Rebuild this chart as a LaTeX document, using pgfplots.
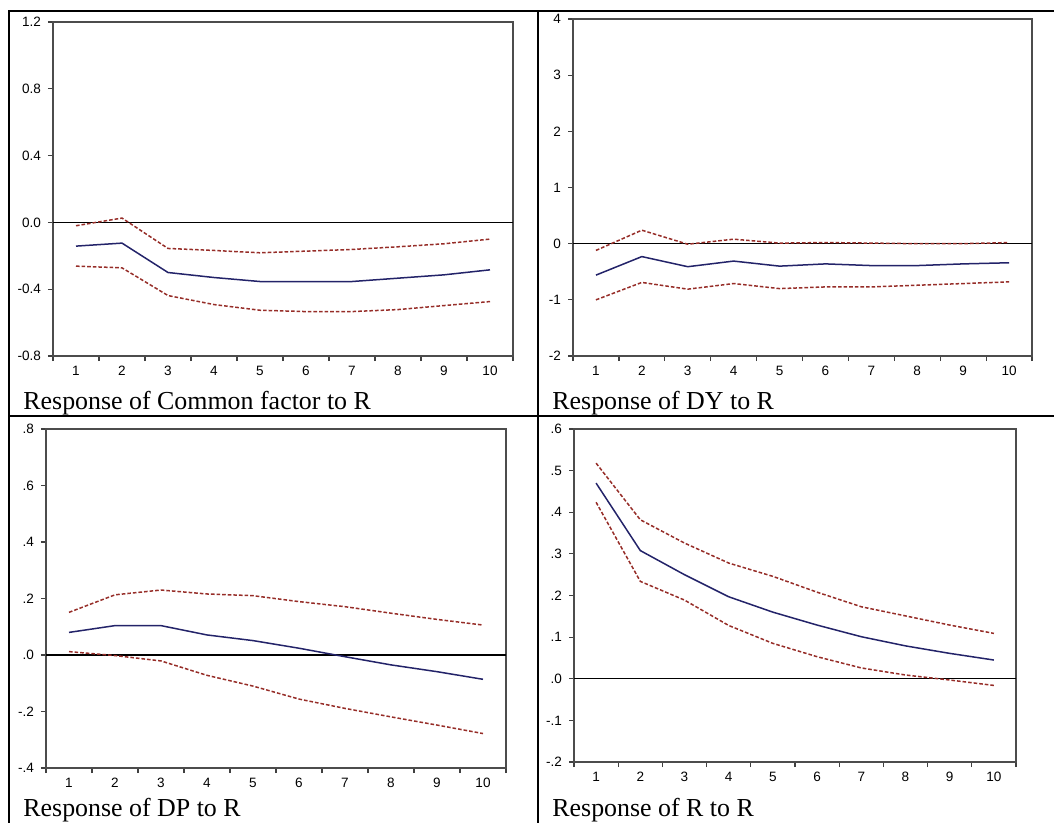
\documentclass[border=0pt]{standalone}
\usepackage{fontspec}
\setmainfont{Liberation Serif}
\setsansfont{Liberation Sans}
\usepackage{pgfplots}
\pgfplotsset{compat=1.18}

\definecolor{irfblue}{RGB}{35,35,105}
\definecolor{irfred}{RGB}{150,45,40}

\pgfplotsset{
  irf/.style={
    scale only axis,
    anchor=south west,
    xmin=0.5, xmax=10.5,
    xtick={0.5,1.5,...,10.5},
    xticklabels={},
    extra x ticks={1,2,3,4,5,6,7,8,9,10},
    extra x tick labels={1,2,3,4,5,6,7,8,9,10},
    extra x tick style={major tick length=0pt,
      xticklabel style={anchor=base, yshift=-9.5bp}},
    tick align=outside,
    xtick pos=bottom, ytick pos=left,
    major tick length=2.5bp,
    tick style={black!75, line width=0.6bp},
    axis line style={black!70, line width=0.6bp},
    ticklabel style={font=\sffamily\fontsize{6.8}{7}\selectfont},
    every axis plot/.append style={line width=0.75bp},
  },
  est/.style={irfblue, solid},
  band/.style={irfred, dash pattern=on 1.8bp off 1bp},
  zero/.style={black, line width=0.6bp},
}

\begin{document}
\begin{tikzpicture}
\path[use as bounding box] (0,0) rectangle (527bp,-411.5bp);

% table rules
\draw[line width=1bp] (4bp,-5.5bp) -- (527bp,-5.5bp);
\draw[line width=1bp] (4.5bp,-5.5bp) -- (4.5bp,-411.5bp);
\draw[line width=1bp] (269bp,-5.5bp) -- (269bp,-411.5bp);
\draw[line width=1bp] (4.5bp,-208bp) -- (527bp,-208bp);

% Common factor
\begin{axis}[irf, at={(26.5bp,-178bp)}, width=230bp, height=167bp,
  ymin=-0.8, ymax=1.2,
  ytick={-0.8,-0.4,0,0.4,0.8,1.2},
  yticklabels={-0.8,-0.4,0.0,0.4,0.8,1.2}]
\addplot[zero] coordinates {(0.5,0) (10.5,0)};
\addplot[band] coordinates {(1,-0.020) (2,0.026) (3,-0.156) (4,-0.168) (5,-0.182) (6,-0.172) (7,-0.162) (8,-0.146) (9,-0.128) (10,-0.100)};
\addplot[est] coordinates {(1,-0.142) (2,-0.124) (3,-0.300) (4,-0.330) (5,-0.354) (6,-0.354) (7,-0.354) (8,-0.334) (9,-0.314) (10,-0.284)};
\addplot[band] coordinates {(1,-0.262) (2,-0.272) (3,-0.438) (4,-0.492) (5,-0.526) (6,-0.534) (7,-0.534) (8,-0.522) (9,-0.498) (10,-0.474)};
\end{axis}

% DY
\begin{axis}[irf, at={(286.5bp,-178bp)}, width=229.5bp, height=168.5bp,
  ymin=-2, ymax=4,
  ytick={-2,-1,0,1,2,3,4},
  yticklabels={-2,-1,0,1,2,3,4}]
\addplot[zero] coordinates {(0.5,0) (10.5,0)};
\addplot[band] coordinates {(1,-0.12) (2,0.24) (3,-0.01) (4,0.08) (5,0.01) (6,0.02) (7,0.01) (8,0.00) (9,0.00) (10,0.02)};
\addplot[est] coordinates {(1,-0.56) (2,-0.23) (3,-0.41) (4,-0.31) (5,-0.40) (6,-0.36) (7,-0.39) (8,-0.39) (9,-0.36) (10,-0.34)};
\addplot[band] coordinates {(1,-1.00) (2,-0.69) (3,-0.81) (4,-0.71) (5,-0.80) (6,-0.77) (7,-0.77) (8,-0.74) (9,-0.71) (10,-0.68)};
\end{axis}

% DP
\begin{axis}[irf, at={(23bp,-384bp)}, width=230bp, height=169.5bp,
  ymin=-0.4, ymax=0.8,
  ytick={-0.4,-0.2,0,0.2,0.4,0.6,0.8},
  yticklabels={-.4,-.2,.0,.2,.4,.6,.8}]
\addplot[zero] coordinates {(0.5,0) (10.5,0)};
\addplot[band] coordinates {(1,0.151) (2,0.213) (3,0.230) (4,0.216) (5,0.210) (6,0.189) (7,0.171) (8,0.148) (9,0.126) (10,0.106)};
\addplot[est] coordinates {(1,0.080) (2,0.104) (3,0.104) (4,0.071) (5,0.051) (6,0.024) (7,-0.006) (8,-0.035) (9,-0.059) (10,-0.086)};
\addplot[band] coordinates {(1,0.012) (2,-0.002) (3,-0.021) (4,-0.072) (5,-0.110) (6,-0.156) (7,-0.189) (8,-0.219) (9,-0.248) (10,-0.278)};
\end{axis}

% R
\begin{axis}[irf, at={(287bp,-381bp)}, width=221bp, height=166.5bp,
  ymin=-0.2, ymax=0.6,
  ytick={-0.2,-0.1,0,0.1,0.2,0.3,0.4,0.5,0.6},
  yticklabels={-.2,-.1,.0,.1,.2,.3,.4,.5,.6}]
\addplot[zero] coordinates {(0.5,0) (10.5,0)};
\addplot[band] coordinates {(1,0.518) (2,0.382) (3,0.326) (4,0.278) (5,0.246) (6,0.208) (7,0.173) (8,0.151) (9,0.129) (10,0.109)};
\addplot[est] coordinates {(1,0.470) (2,0.308) (3,0.250) (4,0.197) (5,0.160) (6,0.129) (7,0.101) (8,0.079) (9,0.061) (10,0.045)};
\addplot[band] coordinates {(1,0.424) (2,0.234) (3,0.189) (4,0.128) (5,0.085) (6,0.053) (7,0.026) (8,0.009) (9,-0.003) (10,-0.016)};
\end{axis}

% panel captions
\begin{scope}[every node/.style={anchor=base west, inner sep=0pt, font=\fontsize{13}{15}\selectfont}]
\node at (11.5bp,-204.5bp) {Response of Common factor to R};
\node at (276bp,-204.5bp) {Response of DY to R};
\node at (11.5bp,-408bp) {Response of DP to R};
\node at (276bp,-408bp) {Response of R to R};
\end{scope}
\end{tikzpicture}
\end{document}
